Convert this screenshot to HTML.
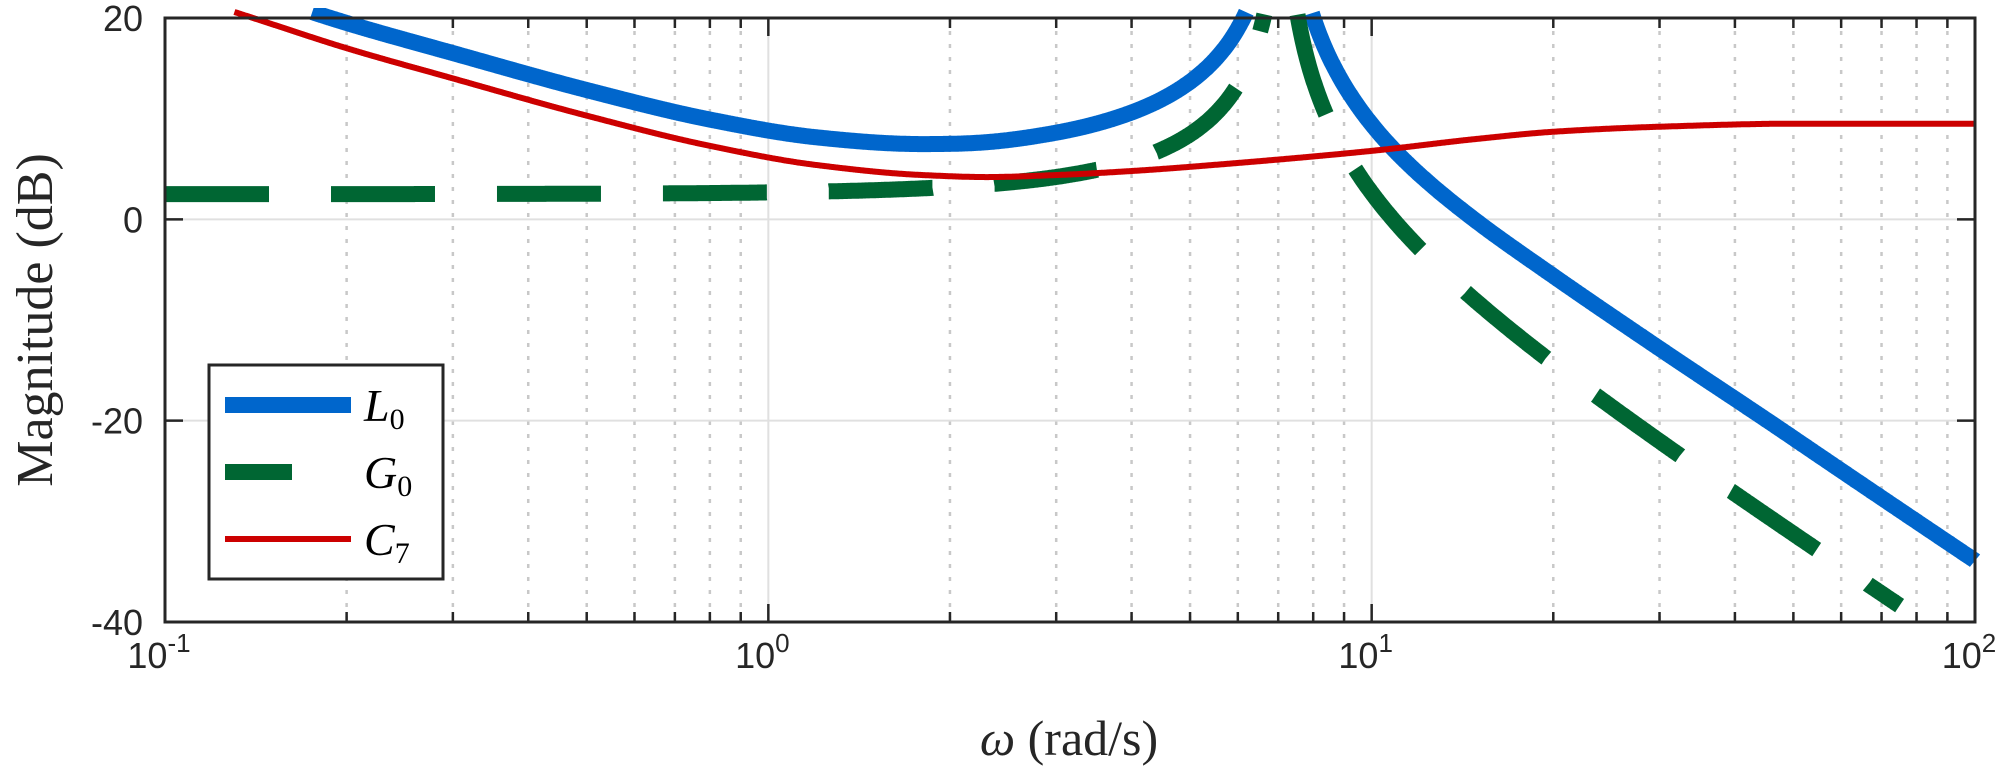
<!DOCTYPE html>
<html><head><meta charset="utf-8"><style>
html,body{margin:0;padding:0;background:#fff;}
svg{display:block;}
</style></head><body>
<svg id="s" width="2008" height="775" xmlns="http://www.w3.org/2000/svg"></svg>
<script>
const L=165,R=1975,T=18,B=622;
const XU=u=>L+(u+1)*(R-L)/3;
const X=w=>XU(Math.log10(w));
const Y=d=>T+(20-d)*(B-T)/60;
let s='';
for(let e=-1;e<2;e++){for(let k=2;k<10;k++){const x=X(k*Math.pow(10,e));
s+=`<line x1="${x}" y1="${T}" x2="${x}" y2="${B}" stroke="#c8c8c8" stroke-width="2.5" stroke-dasharray="4 9"/>`;
s+=`<line x1="${x}" y1="${B}" x2="${x}" y2="${B-10}" stroke="#262626" stroke-width="2.5"/><line x1="${x}" y1="${T}" x2="${x}" y2="${T+10}" stroke="#262626" stroke-width="2.5"/>`;}}
for(let e=0;e<2;e++){const x=X(Math.pow(10,e));s+=`<line x1="${x}" y1="${T}" x2="${x}" y2="${B}" stroke="#e0e0e0" stroke-width="2"/>`;}
for(const d of [0,-20]){s+=`<line x1="${L}" y1="${Y(d)}" x2="${R}" y2="${Y(d)}" stroke="#e0e0e0" stroke-width="2"/>`;}
for(let e=-1;e<=2;e++){const x=X(Math.pow(10,e));s+=`<line x1="${x}" y1="${B}" x2="${x}" y2="${B-18}" stroke="#262626" stroke-width="2.5"/><line x1="${x}" y1="${T}" x2="${x}" y2="${T+18}" stroke="#262626" stroke-width="2.5"/>`;
s+=`<text x="${x-6}" y="668" font-family="Liberation Sans, sans-serif" font-size="36" fill="#262626" text-anchor="middle">10<tspan dy="-16" font-size="26">${e}</tspan></text>`;}
for(const d of [20,0,-20,-40]){const y=Y(d);s+=`<line x1="${L}" y1="${y}" x2="${L+18}" y2="${y}" stroke="#262626" stroke-width="2.5"/><line x1="${R}" y1="${y}" x2="${R-18}" y2="${y}" stroke="#262626" stroke-width="2.5"/>`;
s+=`<text x="143" y="${y+13}" font-family="Liberation Sans, sans-serif" font-size="36" fill="#262626" text-anchor="end">${d}</text>`;}
function pchip(a){
  const xs=a.map(p=>Math.log10(p[0])),ys=a.map(p=>p[1]);const n=xs.length;
  const h=[],d=[];for(let i=0;i<n-1;i++){h.push(xs[i+1]-xs[i]);d.push((ys[i+1]-ys[i])/h[i]);}
  const m=new Array(n);m[0]=d[0];m[n-1]=d[n-2];
  for(let i=1;i<n-1;i++){if(d[i-1]*d[i]<=0)m[i]=0;else{const w1=2*h[i]+h[i-1],w2=h[i]+2*h[i-1];m[i]=(w1+w2)/(w1/d[i-1]+w2/d[i]);}}
  return u=>{let i=0;while(i<n-2&&u>xs[i+1])i++;const t=(u-xs[i])/h[i],t2=t*t,t3=t2*t;
    return (2*t3-3*t2+1)*ys[i]+(t3-2*t2+t)*h[i]*m[i]+(-2*t3+3*t2)*ys[i+1]+(t3-t2)*h[i]*m[i+1];};
}
const Cf=pchip([[0.1,22.8],[0.14,20],[0.2,17],[0.3,14],[0.5,10.3],[0.8,7.3],[1.2,5.4],[1.8,4.4],[2.3,4.2],[3,4.4],[4,4.8],[6,5.6],[10,6.8],[15,8],[20,8.7],[30,9.2],[50,9.5],[100,9.5]]);
const w0=7.1,z=0.012;
const Gf=u=>{const r=Math.pow(10,u)/w0;const re=1-r*r,im=2*z*r;return 2.5-10*Math.log10(re*re+im*im);};
const Lf=u=>Gf(u)+Cf(u);
function path(f,u0,u1){let out='',pen=false;
  for(let u=u0;u<=u1+1e-9;u+=0.001){const v=f(u);
    if(v<=20.6){out+=(pen?'L':'M')+XU(u).toFixed(1)+' '+Y(v).toFixed(1);pen=true;}else pen=false;}
  return out;}
s='<defs><clipPath id="c"><rect x="'+L+'" y="'+(T-10)+'" width="'+(R-L+12)+'" height="'+(B-T+10)+'"/></clipPath></defs>'+s;
s+=`<g fill="none" clip-path="url(#c)">`;
s+=`<path d="${path(Lf,-1,2)}" stroke="#0066cc" stroke-width="16"/>`;
s+=`<path d="${path(Gf,-1,Math.log10(75))}" stroke="#006633" stroke-width="16" stroke-dasharray="104 62"/>`;
s+=`<path d="${path(Cf,-1,2)}" stroke="#cc0000" stroke-width="6"/></g>`;
s+=`<rect x="${L}" y="${T}" width="${R-L}" height="${B-T}" fill="none" stroke="#262626" stroke-width="3"/>`;
s+=`<rect x="209" y="365" width="234" height="214" fill="#fff" stroke="#262626" stroke-width="3"/>`;
s+=`<line x1="225" y1="405" x2="351" y2="405" stroke="#0066cc" stroke-width="16"/>`;
s+=`<line x1="225" y1="472" x2="292" y2="472" stroke="#006633" stroke-width="16"/>`;
s+=`<line x1="225" y1="539" x2="351" y2="539" stroke="#cc0000" stroke-width="6"/>`;
const lt=(y,a,b)=>`<text x="364" y="${y}" font-family="Liberation Serif, serif" font-size="46" fill="#000"><tspan font-style="italic">${a}</tspan><tspan font-size="30" dy="8">${b}</tspan></text>`;
s+=lt(421,'L','0')+lt(488,'G','0')+lt(555,'C','7');
s+=`<text x="1069" y="755" font-family="Liberation Serif, serif" font-size="50" fill="#262626" text-anchor="middle"><tspan font-style="italic">ω</tspan> (rad/s)</text>`;
s+=`<text transform="translate(52,320) rotate(-90)" font-family="Liberation Serif, serif" font-size="52" fill="#262626" text-anchor="middle">Magnitude (dB)</text>`;
document.getElementById('s').innerHTML=s;
</script>
</body></html>
